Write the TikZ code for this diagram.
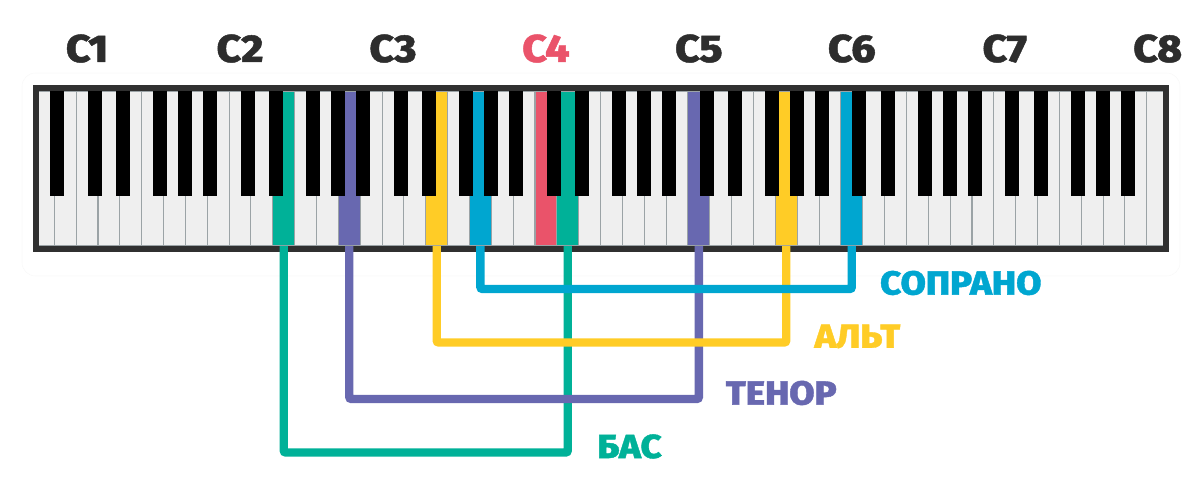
\documentclass[tikz,border=0pt]{standalone}
\usepackage{fontspec}
\newfontfamily\labelfont{Fira Sans ExtraBold}[FakeStretch=1.1, FakeBold=1.2]
\usepackage{xcolor}
\definecolor{keywhite}{RGB}{239,239,239}
\definecolor{keyline}{RGB}{155,163,166}
\definecolor{keyframe}{RGB}{48,48,48}
\definecolor{octavegray}{RGB}{45,45,45}
\definecolor{bass}{RGB}{0,177,152}
\definecolor{tenor}{RGB}{104,104,176}
\definecolor{alto}{RGB}{255,204,38}
\definecolor{soprano}{RGB}{0,166,208}
\definecolor{middlec}{RGB}{234,83,106}
\usetikzlibrary{positioning}
\newcommand\keyw{21.85}
\newcommand\keyx{32.45}

\begin{document}
\begin{tikzpicture}[x=0.75pt, y=0.75pt,
    whitekey/.style={draw=keyline, line width=0.8pt, fill=keywhite},
    blackkey/.style={fill=black},
    voice/.style={line width=6.2pt, rounded corners=1.5pt},
    octave/.style={font=\labelfont\fontsize{29}{30}\selectfont,
                   anchor=base, inner sep=0pt},
    part/.style={font=\labelfont\fontsize{25}{26}\selectfont,
                 anchor=west, inner sep=0pt},
  ]
  \useasboundingbox (0,0) rectangle (1200,491);

  %% backdrop
  \draw[black!2.5, fill=white, rounded corners=10pt] (22,215) rectangle (1180,418);

  %% KEYS -- A0 to C8
  \begin{scope}
    \clip (36,245) rectangle (1166,399.5);
    \foreach \i in {0,...,51}
      \draw[whitekey] ({\keyx+\i*\keyw},245) rectangle ++(\keyw,154.5);
    \foreach \i/\c in {11/bass, 24/bass, 14/tenor, 30/tenor,
                       18/alto, 34/alto, 20/soprano, 37/soprano, 23/middlec}
      \draw[whitekey, fill=\c] ({\keyx+\i*\keyw},245) rectangle ++(\keyw,154.5);
    \foreach \o in {0,...,7}
      \foreach \n/\d in {0/0.12, 2/-0.15, 3/0.15, 5/-0.15, 6/0} {
        \pgfmathtruncatemacro\k{7*\o+\n}
        \ifnum\k<51
          \fill[blackkey] ({\keyx+(\k+1+\d)*\keyw-7},295) rectangle ++(14,104.5);
        \fi
      }
  \end{scope}
  \draw[keyframe, line width=4.5pt] (36.2,242) rectangle (1165.9,402.75);

  %% octave labels
  \foreach \o/\c in {1/octavegray, 2/octavegray, 3/octavegray, 4/middlec,
                     5/octavegray, 6/octavegray, 7/octavegray, 8/octavegray}
    \node[octave, text=\c] (C\o) at ({\keyx+(7*\o-4.5)*\keyw},429) {C\o};

  %% key ends for the ranges
  \coordinate (E2) at ({\keyx+11.5*\keyw},245);
  \coordinate (D4) at ({\keyx+24.5*\keyw},245);
  \coordinate (A2) at ({\keyx+14.5*\keyw},245);
  \coordinate (C5) at ({\keyx+30.5*\keyw},245);
  \coordinate (E3) at ({\keyx+18.5*\keyw},245);
  \coordinate (G5) at ({\keyx+34.5*\keyw},245);
  \coordinate (G3) at ({\keyx+20.5*\keyw},245);
  \coordinate (C6) at ({\keyx+37.5*\keyw},245);

  %% ranges
  \draw[voice, bass]    (E2) -- ++(0,-206.5) coordinate (basslow)    -| (D4);
  \draw[voice, tenor]   (A2) -- ++(0,-153)   coordinate (tenorlow)   -| (C5);
  \draw[voice, alto]    (E3) -- ++(0,-96.5)  coordinate (altolow)    -| (G5);
  \draw[voice, soprano] (G3) -- ++(0,-43)    coordinate (sopranolow) -| (C6);

  \node[part, text=bass]    (basslbl)    at ([xshift=22pt,yshift=4.5pt]basslow -| D4)    {БАС};
  \node[part, text=tenor]   (tenorlbl)   at ([xshift=20pt,yshift=4.5pt]tenorlow -| C5)   {ТЕНОР};
  \node[part, text=alto]    (altolbl)    at ([xshift=21pt,yshift=4.5pt]altolow -| G5)    {АЛЬТ};
  \node[part, text=soprano] (sopranolbl) at ([xshift=21pt,yshift=4.5pt]sopranolow -| C6) {СОПРАНО};

\end{tikzpicture}
\end{document}
